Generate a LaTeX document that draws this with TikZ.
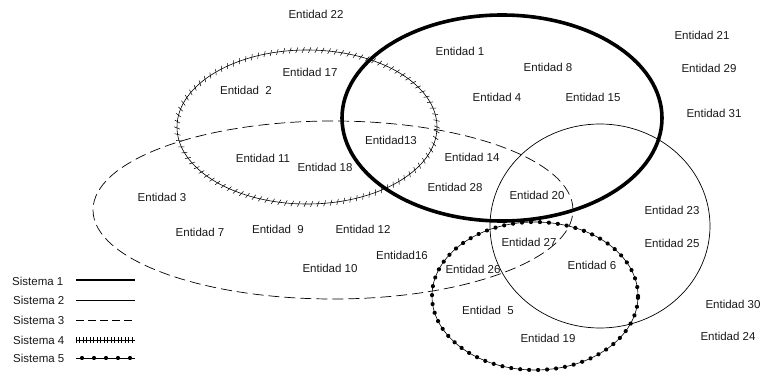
\documentclass[tikz,border=0pt]{standalone}
\usepackage{fontspec}
\setmainfont{Liberation Sans}
\usetikzlibrary{decorations.markings}

\tikzset{
  ent/.style={font=\fontsize{11.5}{13}\selectfont, inner sep=0pt, text=black!90},
  legtext/.style={font=\fontsize{11.5}{13}\selectfont, inner sep=0pt, anchor=west, text=black!90},
  sysone/.style={line width=3.6pt},
  systwo/.style={line width=0.7pt},
  systhree/.style={line width=0.7pt, dash pattern=on 11pt off 5pt},
  % thin line crossed by short slanted hatch marks
  sysfour/.style={line width=0.6pt,
    postaction={decorate, decoration={markings,
      mark=between positions 0 and 1 step #1 with {\draw[line width=0.5pt] (-1.2pt,-2.8pt) -- (1.2pt,2.8pt);}}}},
  sysfour/.default=6.5pt,
  % thin line threaded with round beads
  sysfive/.style={line width=0.6pt,
    postaction={decorate, decoration={markings,
      mark=between positions 0 and 1 step #1 with {\fill (0,0) circle (2.1pt);}}}},
  sysfive/.default=9pt,
}

\begin{document}
\begin{tikzpicture}[x=1pt, y=-1pt]
  \useasboundingbox (0,0) rectangle (764,377);

  % the five systems
  \draw[systhree] (333,210) ellipse [x radius=240pt, y radius=89pt];
  \draw[sysfour]  (307,127) ellipse [x radius=130pt, y radius=77pt];
  \draw[systwo]   (600,226) ellipse [x radius=110pt, y radius=102pt];
  \draw[sysfive]  (535,296) ellipse [x radius=103pt, y radius=74pt];
  \draw[sysone]   (502,118) ellipse [x radius=160pt, y radius=103pt];

  % entities
  \node[ent] (e22) at (316,14)  {Entidad 22};
  \node[ent] (e1)  at (460,51)  {Entidad 1};
  \node[ent] (e21) at (702,35)  {Entidad 21};
  \node[ent] (e17) at (310,72)  {Entidad 17};
  \node[ent] (e8)  at (548,67)  {Entidad 8};
  \node[ent] (e29) at (709,68)  {Entidad 29};
  \node[ent] (e2)  at (246,90)  {Entidad \ 2};
  \node[ent] (e4)  at (497,97)  {Entidad 4};
  \node[ent] (e15) at (593,97)  {Entidad 15};
  \node[ent] (e31) at (714,113) {Entidad 31};
  \node[ent] (e13) at (391,140) {Entidad13};
  \node[ent] (e11) at (263,158) {Entidad 11};
  \node[ent] (e14) at (472,157) {Entidad 14};
  \node[ent] (e18) at (325,167) {Entidad 18};
  \node[ent] (e28) at (455,187) {Entidad 28};
  \node[ent] (e20) at (537,195) {Entidad 20};
  \node[ent] (e3)  at (162,197) {Entidad 3};
  \node[ent] (e23) at (672,210) {Entidad 23};
  \node[ent] (e7)  at (200,232) {Entidad 7};
  \node[ent] (e9)  at (278,229) {Entidad \ 9};
  \node[ent] (e12) at (363,229) {Entidad 12};
  \node[ent] (e27) at (529,242) {Entidad 27};
  \node[ent] (e25) at (672,243) {Entidad 25};
  \node[ent] (e16) at (402,255) {Entidad16};
  \node[ent] (e26) at (473,269) {Entidad 26};
  \node[ent] (e6)  at (592,265) {Entidad 6};
  \node[ent] (e10) at (330,268) {Entidad 10};
  \node[ent] (e5)  at (488,310) {Entidad \ 5};
  \node[ent] (e30) at (733,304) {Entidad 30};
  \node[ent] (e19) at (548,338) {Entidad 19};
  \node[ent] (e24) at (728,336) {Entidad 24};

  % legend
  \node[legtext] (s1) at (12,281) {Sistema 1};
  \node[legtext] (s2) at (13,300) {Sistema 2};
  \node[legtext] (s3) at (13,320) {Sistema 3};
  \node[legtext] (s4) at (13,340) {Sistema 4};
  \node[legtext] (s5) at (13,358) {Sistema 5};

  \coordinate (l1a) at (76,280);  \coordinate (l1b) at (135,280);
  \coordinate (l2a) at (76,300);  \coordinate (l2b) at (135,300);
  \coordinate (l3a) at (76,320);  \coordinate (l3b) at (135,320);
  \coordinate (l4a) at (76,340);  \coordinate (l4b) at (135,340);
  \coordinate (l5a) at (76,358);  \coordinate (l5b) at (135,358);

  \draw[line width=2.8pt] (l1a) -- (l1b);
  \draw[systwo] (l2a) -- (l2b);
  \draw[line width=0.7pt, dash pattern=on 8pt off 4pt] (l3a) -- (l3b);
  \draw[line width=0.6pt,
    postaction={decorate, decoration={markings,
      mark=between positions 0 and 1 step 3.5pt with {\draw[line width=0.5pt] (0,-2.6pt) -- (0,2.6pt);}}}] (l4a) -- (l4b);
  \draw[line width=0.6pt,
    postaction={decorate, decoration={markings,
      mark=between positions 6pt and 1 step 12pt with {\fill (0,0) circle (2.1pt);}}}] (l5a) -- (l5b);
\end{tikzpicture}
\end{document}
